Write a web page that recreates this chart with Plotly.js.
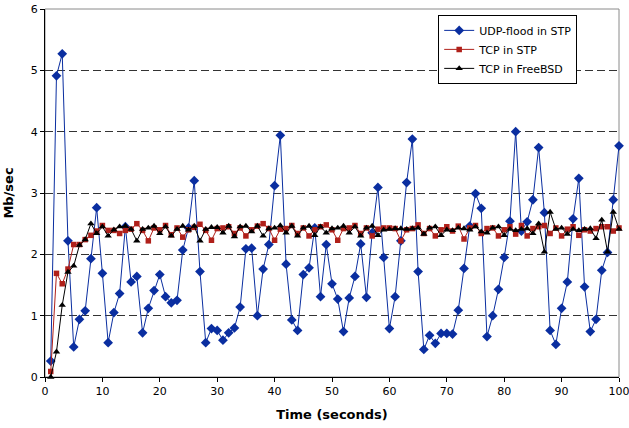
<!DOCTYPE html>
<html>
<head>
<meta charset="utf-8">
<script src="https://cdn.plot.ly/plotly-3.0.1.min.js"></script>
<style>html,body{margin:0;padding:0;background:#fff;}#chart{width:629px;height:428px;}</style>
</head>
<body>
<div id="chart"></div>
<script>
const seconds = Array.from({length: 100}, (_, i) => i + 1);

const udpFloodSTP = [0.26,4.91,5.27,2.22,0.49,0.94,1.08,1.93,2.76,1.69,
  0.56,1.05,1.36,2.45,1.55,1.64,0.72,1.12,1.41,1.67,
  1.31,1.21,1.25,2.07,2.43,3.20,1.72,0.56,0.79,0.76,
  0.60,0.72,0.80,1.14,2.09,2.10,1.00,1.76,2.16,3.12,
  3.94,1.84,0.93,0.76,1.67,1.78,2.43,1.31,2.16,1.52,
  1.27,0.74,1.29,1.64,2.17,1.30,2.35,3.09,1.95,0.79,
  1.31,2.22,3.17,3.88,1.72,0.45,0.68,0.55,0.71,0.71,
  0.70,1.09,1.77,2.46,2.99,2.75,0.66,1.00,1.43,1.95,
  2.54,4.00,2.38,2.53,2.89,3.74,2.68,0.76,0.53,1.12,
  1.55,2.58,3.24,1.47,0.74,0.94,1.74,2.03,2.89,3.77];

const tcpSTP = [0.09,1.69,1.52,1.76,2.16,2.16,2.24,2.31,2.38,2.47,
  2.39,2.39,2.34,2.39,2.41,2.50,2.39,2.22,2.43,2.40,
  2.47,2.32,2.43,2.28,2.40,2.44,2.49,2.39,2.23,2.42,
  2.43,2.45,2.34,2.43,2.30,2.40,2.46,2.50,2.42,2.23,
  2.41,2.42,2.47,2.34,2.43,2.30,2.40,2.45,2.48,2.40,
  2.23,2.42,2.43,2.47,2.34,2.43,2.30,2.41,2.43,2.43,
  2.42,2.22,2.40,2.42,2.48,2.34,2.42,2.30,2.40,2.45,
  2.38,2.46,2.25,2.43,2.47,2.34,2.42,2.43,2.30,2.40,
  2.45,2.33,2.47,2.30,2.42,2.45,2.47,2.34,2.43,2.30,
  2.41,2.45,2.31,2.40,2.38,2.42,2.45,2.45,2.38,2.43];

const tcpFreeBSD = [0.00,0.41,1.17,1.71,1.81,2.15,2.24,2.50,2.34,2.45,
  2.30,2.40,2.45,2.46,2.41,2.22,2.41,2.43,2.46,2.34,
  2.45,2.30,2.41,2.46,2.40,2.46,2.22,2.41,2.44,2.44,
  2.35,2.46,2.29,2.45,2.46,2.37,2.46,2.30,2.42,2.43,
  2.47,2.35,2.46,2.30,2.43,2.46,2.31,2.45,2.35,2.42,
  2.43,2.46,2.35,2.45,2.30,2.43,2.46,2.31,2.40,2.41,
  2.42,2.42,2.41,2.42,2.43,2.33,2.43,2.45,2.31,2.40,
  2.39,2.43,2.42,2.40,2.45,2.37,2.35,2.43,2.45,2.31,
  2.41,2.39,2.41,2.42,2.34,2.50,2.04,2.69,2.41,2.43,
  2.33,2.41,2.39,2.41,2.42,2.26,2.56,2.04,2.69,2.41];

const seriesNames = ['UDP-flood in STP', 'TCP in STP', 'TCP in FreeBSD'];
const xTicks = [0,10,20,30,40,50,60,70,80,90,100];
const yTicks = [0,1,2,3,4,5,6];

const FONT = 'Verdana, "DejaVu Sans", sans-serif';

const traces = [
  {x: seconds, y: udpFloodSTP, name: seriesNames[0], type: 'scatter', mode: 'lines+markers',
   line: {color: '#0a2ea0', width: 1}, marker: {symbol: 'diamond', size: 7.5, color: '#0a2ea0'}, cliponaxis: false},
  {x: seconds, y: tcpSTP, name: seriesNames[1], type: 'scatter', mode: 'lines+markers',
   line: {color: '#b0201a', width: 1}, marker: {symbol: 'square', size: 5.5, color: '#b0201a'}, cliponaxis: false},
  {x: seconds, y: tcpFreeBSD, name: seriesNames[2], type: 'scatter', mode: 'lines+markers',
   line: {color: '#000000', width: 1}, marker: {symbol: 'triangle-up', size: 6.5, color: '#000000'}, cliponaxis: false}
];

const layout = {
  width: 629, height: 428,
  margin: {l: 45, r: 10, t: 9, b: 51, pad: 0},
  paper_bgcolor: '#ffffff', plot_bgcolor: '#ffffff',
  font: {family: FONT, size: 11, color: '#000'},
  showlegend: true,
  legend: {x: 0.685, y: 0.984, xanchor: 'left', yanchor: 'top',
    bordercolor: '#000', borderwidth: 1, bgcolor: '#fff',
    font: {family: FONT, size: 11, color: '#000'}, tracegroupgap: 0, itemwidth: 30},
  xaxis: {range: [0, 100], tickvals: xTicks, ticktext: xTicks.map(String),
    ticks: 'outside', ticklen: 4, tickcolor: '#000', showline: true, linecolor: '#000', linewidth: 1,
    showgrid: false, zeroline: false, tickfont: {family: FONT, size: 11}, ticklabeloverflow: 'allow',
    title: {text: '<b>Time (seconds)</b>', font: {family: FONT, size: 13}, standoff: 12}},
  yaxis: {range: [0, 6], tickvals: yTicks, ticktext: yTicks.map(String),
    ticks: 'outside', ticklen: 4, tickcolor: '#000', showline: true, linecolor: '#000', linewidth: 1,
    showgrid: true, gridcolor: '#333', griddash: '8px,4px', gridwidth: 1, zeroline: false,
    tickfont: {family: FONT, size: 11}, ticklabeloverflow: 'allow',
    title: {text: '<b>Mb/sec</b>', font: {family: FONT, size: 13}, standoff: 14}},
  shapes: [
    {type: 'rect', xref: 'paper', yref: 'paper', x0: 0, x1: 1, y0: 0, y1: 1,
     line: {color: '#8a8a8a', width: 1}, layer: 'below'}
  ]
};

Plotly.newPlot('chart', traces, layout, {staticPlot: true, displayModeBar: false});
</script>
</body>
</html>
